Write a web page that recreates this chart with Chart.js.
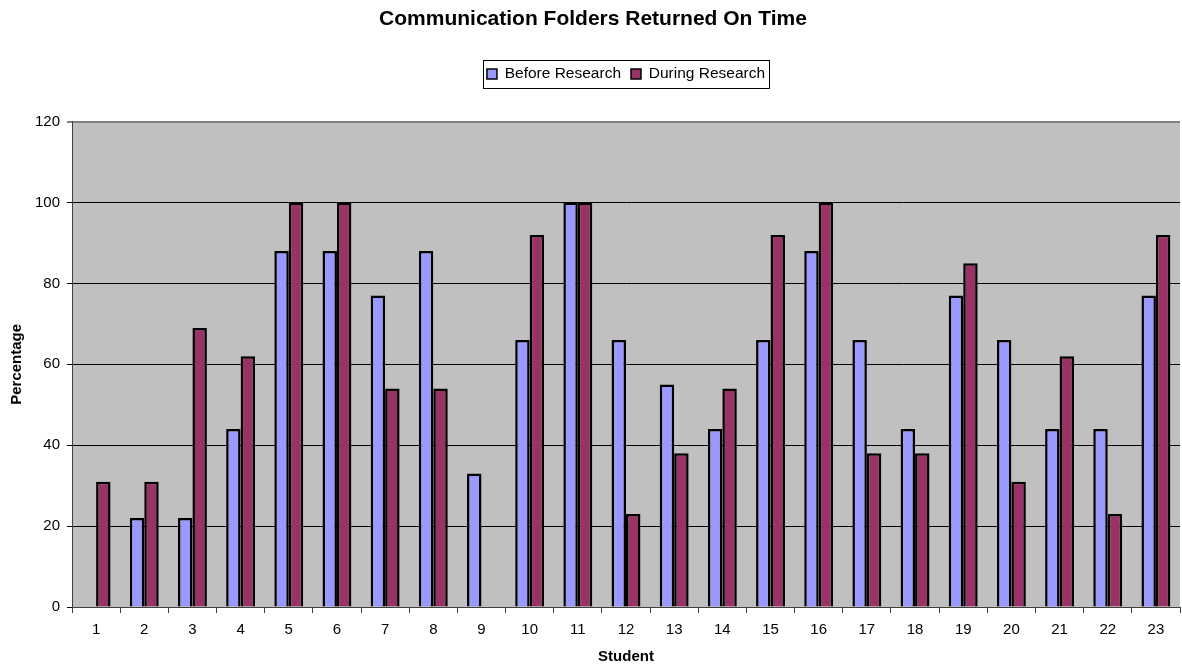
<!DOCTYPE html>
<html>
<head>
<meta charset="utf-8">
<script src="https://cdn.jsdelivr.net/npm/chart.js@4.4.1/dist/chart.umd.min.js"></script>
<style>
  html, body { margin: 0; padding: 0; background: #fff; }
  #wrap { width: 1182px; height: 666px; position: relative; }
</style>
</head>
<body>
<div id="wrap"><canvas id="chart"></canvas></div>
<script>
const students = ["1", "2", "3", "4", "5", "6", "7", "8", "9", "10", "11", "12",
    "13", "14", "15", "16", "17", "18", "19", "20", "21", "22", "23"];
const beforeResearch = [0, 22, 22, 44, 88, 88, 77, 88, 33, 66, 100, 66,
    55, 44, 66, 88, 66, 44, 77, 66, 44, 44, 77];
const duringResearch = [31, 31, 69, 62, 100, 100, 54, 54, 0, 92, 100, 23,
    38, 54, 92, 100, 38, 38, 85, 31, 62, 23, 92];
const yTicks = [0, 20, 40, 60, 80, 100, 120];

const FONT = "'Liberation Sans', Arial, sans-serif";
const PLOT_BG = "#C0C0C0";

// grey plot area + extra room under legend + framed legend
const plotBackground = {
    id: "plotBackground",
    afterInit(chart) {
        const legend = chart.legend;
        const fit = legend.fit;
        legend.fit = function () {
            fit.call(this);
            this.height += 30;
        };
    },
    beforeDraw(chart) {
        const { ctx, chartArea } = chart;
        ctx.save();
        ctx.fillStyle = PLOT_BG;
        ctx.fillRect(chartArea.left, chartArea.top,
            chartArea.right - chartArea.left, chartArea.bottom - chartArea.top);
        ctx.restore();
    },
    afterDraw(chart) {
        const boxes = chart.legend.legendHitBoxes;
        if (!boxes || !boxes.length) {
            return;
        }
        const left = Math.min(...boxes.map((b) => b.left)) - 4;
        const right = Math.max(...boxes.map((b) => b.left + b.width)) + 4;
        const top = Math.min(...boxes.map((b) => b.top)) - 6;
        const bottom = Math.max(...boxes.map((b) => b.top + b.height)) + 6;
        const ctx = chart.ctx;
        ctx.save();
        ctx.strokeStyle = "#000";
        ctx.lineWidth = 1;
        ctx.strokeRect(Math.round(left) + 0.5, Math.round(top) + 0.5,
            Math.round(right - left), Math.round(bottom - top));
        ctx.restore();
    },
};

new Chart(document.getElementById("chart"), {
    type: "bar",
    data: {
        labels: students,
        datasets: [
            {
                label: "Before Research",
                data: beforeResearch,
                backgroundColor: "#9999FF",
                borderColor: "#000",
                borderWidth: 2.5,
            },
            {
                label: "During Research",
                data: duringResearch,
                backgroundColor: "#993366",
                borderColor: "#000",
                borderWidth: 2.5,
            },
        ],
    },
    options: {
        responsive: true,
        maintainAspectRatio: false,
        animation: false,
        datasets: {
            bar: { categoryPercentage: 0.6, barPercentage: 1.0 },
        },
        layout: { padding: { left: 6, right: 2, top: 0, bottom: 0 } },
        plugins: {
            title: {
                display: true,
                text: "Communication Folders Returned On Time",
                color: "#000",
                font: { family: FONT, size: 21, weight: "bold" },
                padding: { top: 7, bottom: 24 },
            },
            legend: {
                position: "top",
                fullSize: false,
                labels: {
                    color: "#000",
                    font: { family: FONT, size: 15.5 },
                    boxWidth: 10,
                    boxHeight: 10,
                    padding: 10,
                    generateLabels(chart) {
                        return chart.data.datasets.map((ds, i) => ({
                            text: ds.label,
                            fillStyle: ds.backgroundColor,
                            strokeStyle: "#000",
                            lineWidth: 1.5,
                            fontColor: "#000",
                            datasetIndex: i,
                            hidden: false,
                        }));
                    },
                },
            },
            tooltip: { enabled: false },
        },
        scales: {
            x: {
                afterFit(scale) {
                    scale.height = 59;
                },
                grid: {
                    offset: true,
                    drawOnChartArea: false,
                    drawTicks: true,
                    tickLength: 6,
                    color: "#404040",
                },
                border: { color: "#404040", width: 1 },
                ticks: {
                    color: "#000",
                    font: { family: FONT, size: 15 },
                    padding: 8,
                    maxRotation: 0,
                },
                title: {
                    display: true,
                    text: "Student",
                    color: "#000",
                    font: { family: FONT, size: 15, weight: "bold" },
                    padding: { top: 9, bottom: 0 },
                },
            },
            y: {
                min: 0,
                max: 120,
                afterBuildTicks(scale) {
                    scale.ticks = yTicks.map((v) => ({ value: v }));
                },
                afterFit(scale) {
                    scale.width = 66;
                },
                grid: {
                    color: (c) => (c.tick && c.tick.value === 120 ? "#808080" : "#000"),
                    lineWidth: (c) => (c.tick && c.tick.value === 120 ? 2 : 1),
                    tickLength: 5,
                },
                border: { color: "#404040", width: 1 },
                ticks: {
                    color: "#000",
                    font: { family: FONT, size: 15 },
                    padding: 7,
                },
                title: {
                    display: true,
                    text: "Percentage",
                    color: "#000",
                    font: { family: FONT, size: 15, weight: "bold" },
                    padding: { top: 2, bottom: 0 },
                },
            },
        },
    },
    plugins: [plotBackground],
});
</script>
</body>
</html>
